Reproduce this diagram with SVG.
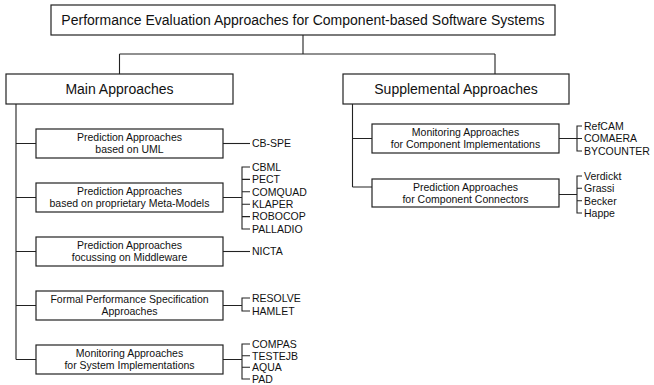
<svg xmlns="http://www.w3.org/2000/svg" width="654" height="385" viewBox="0 0 654 385">
<style>
rect{fill:#fff;stroke:#222;stroke-width:1.2}
.c path{fill:none;stroke:#222;stroke-width:1.1}
text{font-family:"Liberation Sans",Arial,sans-serif;fill:#111}
.t1{font-size:14px;text-anchor:middle}
.t2{font-size:10.5px;text-anchor:middle}
.l{font-size:10.5px}
</style>
<rect x="0" y="0" width="654" height="385" style="stroke:none"/>
<g class="c">
<path d="M303 35V54M119.5 54H495M119.5 54V74M495 54V74"/>
<path d="M16 104V359.5M16 143.5H36M16 197.5H36M16 251.5H36M16 305.5H36M16 359.5H36"/>
<path d="M352.5 104V187M352.5 138.5H372M352.5 187H372"/>
<path d="M223 143.5H250"/>
<path d="M223 197.5H242M250 167H242V229H250M242 179.4H250M242 191.8H250M242 204.2H250M242 216.6H250"/>
<path d="M223 251.5H250"/>
<path d="M223 305.5H242M250 298H242V311H250"/>
<path d="M223 359.5H242M250 344H242V379H250M242 355.7H250M242 367.3H250"/>
<path d="M559 138.5H577M582 126H577V151H582M577 138.5H582"/>
<path d="M559 194.5H577M582 176H577V213H582M577 188.3H582M577 200.7H582"/>
</g>
<g id="root"><rect x="51" y="5" width="504" height="30"/><text class="t1" x="303" y="25">Performance Evaluation Approaches for Component-based Software Systems</text></g>
<g id="main"><rect x="6" y="74" width="227" height="30"/><text class="t1" x="119.5" y="94">Main Approaches</text></g>
<g id="supp"><rect x="343" y="74" width="226" height="30"/><text class="t1" x="456" y="94">Supplemental Approaches</text></g>
<g id="uml"><rect x="36" y="129" width="187" height="29"/><text class="t2" x="129.5" y="141.3">Prediction Approaches</text><text class="t2" x="129.5" y="153.3">based on UML</text></g>
<g id="meta"><rect x="36" y="183" width="187" height="29"/><text class="t2" x="129.5" y="195.3">Prediction Approaches</text><text class="t2" x="129.5" y="207.3">based on proprietary Meta-Models</text></g>
<g id="mw"><rect x="36" y="237" width="187" height="29"/><text class="t2" x="129.5" y="249.3">Prediction Approaches</text><text class="t2" x="129.5" y="261.3">focussing on Middleware</text></g>
<g id="formal"><rect x="36" y="291" width="187" height="29"/><text class="t2" x="129.5" y="303.3">Formal Performance Specification</text><text class="t2" x="129.5" y="315.3">Approaches</text></g>
<g id="monsys"><rect x="36" y="345" width="187" height="29"/><text class="t2" x="129.5" y="357.3">Monitoring Approaches</text><text class="t2" x="129.5" y="369.3">for System Implementations</text></g>
<g id="moncomp"><rect x="372" y="124" width="187" height="29"/><text class="t2" x="465.5" y="136.3">Monitoring Approaches</text><text class="t2" x="465.5" y="148.3">for Component Implementations</text></g>
<g id="predconn"><rect x="372" y="179" width="187" height="28"/><text class="t2" x="465.5" y="190.8">Prediction Approaches</text><text class="t2" x="465.5" y="202.8">for Component Connectors</text></g>
<g id="labels">
<text class="l" x="252" y="147.3">CB-SPE</text>
<text class="l" x="252" y="170.8">CBML</text>
<text class="l" x="252" y="183.2">PECT</text>
<text class="l" x="252" y="195.6">COMQUAD</text>
<text class="l" x="252" y="208">KLAPER</text>
<text class="l" x="252" y="220.4">ROBOCOP</text>
<text class="l" x="252" y="232.8">PALLADIO</text>
<text class="l" x="252" y="255.3">NICTA</text>
<text class="l" x="252" y="301.8">RESOLVE</text>
<text class="l" x="252" y="314.8">HAMLET</text>
<text class="l" x="252" y="347.8">COMPAS</text>
<text class="l" x="252" y="359.5">TESTEJB</text>
<text class="l" x="252" y="371.1">AQUA</text>
<text class="l" x="252" y="382.8">PAD</text>
<text class="l" x="584" y="129.8">RefCAM</text>
<text class="l" x="584" y="142.3">COMAERA</text>
<text class="l" x="584" y="154.8">BYCOUNTER</text>
<text class="l" x="584" y="179.8">Verdickt</text>
<text class="l" x="584" y="192.1">Grassi</text>
<text class="l" x="584" y="204.5">Becker</text>
<text class="l" x="584" y="216.8">Happe</text>
</g>
</svg>
